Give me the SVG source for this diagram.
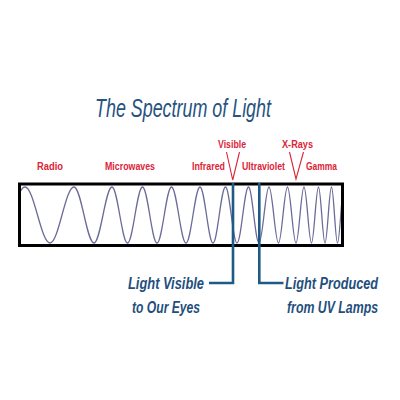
<svg xmlns="http://www.w3.org/2000/svg" width="400" height="400" viewBox="0 0 400 400">
<style>
.red{font-family:"Liberation Sans",Arial,sans-serif;font-weight:bold;font-size:11px;fill:#dc2439}
.vee{fill:none;stroke:#dc2439;stroke-width:1.1}
.title{font-family:"Liberation Sans",Arial,sans-serif;font-style:italic;font-size:26px;fill:#26537f}
.lbl{font-family:"Liberation Sans",Arial,sans-serif;font-style:italic;font-weight:bold;font-size:17px;fill:#1f4f7d}
.conn{fill:none;stroke:#1d5a86;stroke-width:2.6}
</style>
<defs>
<clipPath id="inner"><rect x="20" y="185" width="322" height="60"/></clipPath>
</defs>
<rect width="400" height="400" fill="#fff"/>
<g id="title"><text class="title" x="95" y="117" textLength="176" lengthAdjust="spacingAndGlyphs">The Spectrum of Light</text></g>
<g id="labels">
<text class="red" x="37" y="170" textLength="26" lengthAdjust="spacingAndGlyphs">Radio</text>
<text class="red" x="105" y="170" textLength="50" lengthAdjust="spacingAndGlyphs">Microwaves</text>
<text class="red" x="192" y="169.5" textLength="33" lengthAdjust="spacingAndGlyphs">Infrared</text>
<text class="red" x="242" y="169.5" textLength="43" lengthAdjust="spacingAndGlyphs">Ultraviolet</text>
<text class="red" x="306" y="169.5" textLength="31" lengthAdjust="spacingAndGlyphs">Gamma</text>
<text class="red" x="218" y="147.5" textLength="28" lengthAdjust="spacingAndGlyphs">Visible</text>
<text class="red" x="282" y="147.5" textLength="31" lengthAdjust="spacingAndGlyphs">X-Rays</text>
<polyline class="vee" points="226.5,152 232.7,180 239.5,152"/>
<polyline class="vee" points="289.5,152 296,179 303.5,152"/>
</g>
<g id="spectrum">
<path clip-path="url(#inner)" fill="none" stroke="#6b6b98" stroke-width="1.3" d="M -1 243 C 8.45 243 15.55 187 25 187 C 34.09 187 40.91 243 50 243 C 58.72 243 65.28 187 74 187 C 81.27 187 86.73 243 94 243 C 100.54 243 105.46 187 112 187 C 117.63 187 121.87 243 127.5 243 C 132.95 243 137.05 187 142.5 187 C 147.77 187 151.73 243 157 243 C 162.27 243 166.23 187 171.5 187 C 176.77 187 180.73 243 186 243 C 191.09 243 194.91 187 200 187 C 204.72 187 208.28 243 213 243 C 217.54 243 220.96 187 225.5 187 C 229.68 187 232.82 243 237 243 C 241.18 243 244.32 187 248.5 187 C 252.32 187 255.18 243 259 243 C 262.63 243 265.37 187 269 187 C 272.45 187 275.05 243 278.5 243 C 281.77 243 284.23 187 287.5 187 C 290.59 187 292.91 243 296 243 C 298.91 243 301.09 187 304 187 C 306.73 187 308.77 243 311.5 243 C 314.04 243 315.96 187 318.5 187 C 320.86 187 322.64 243 325 243 C 327.36 243 329.14 187 331.5 187 C 333.68 187 335.32 243 337.5 243 C 339.86 243 341.64 187 344 187"/>
<rect x="19.5" y="184" width="323" height="61.5" fill="none" stroke="#000" stroke-width="3"/>
</g>
<g id="connectors">
<polyline class="conn" points="233,183 233,283 209,283"/>
<polyline class="conn" points="259.3,183 259.3,283 283.5,283"/>
</g>
<g id="visible-label">
<text class="lbl" transform="translate(166,288.5) scale(0.74,1)" x="0" y="0" text-anchor="middle" textLength="102.7" lengthAdjust="spacingAndGlyphs">Light Visible</text>
<text class="lbl" transform="translate(166,312.5) scale(0.74,1)" x="0" y="0" text-anchor="middle" textLength="91.9" lengthAdjust="spacingAndGlyphs">to Our Eyes</text>
</g>
<g id="uv-label">
<text class="lbl" transform="translate(378,288.5) scale(0.74,1)" x="0" y="0" text-anchor="end" textLength="125.7" lengthAdjust="spacingAndGlyphs">Light Produced</text>
<text class="lbl" transform="translate(378,312.5) scale(0.74,1)" x="0" y="0" text-anchor="end" textLength="123" lengthAdjust="spacingAndGlyphs">from UV Lamps</text>
</g>
</svg>
